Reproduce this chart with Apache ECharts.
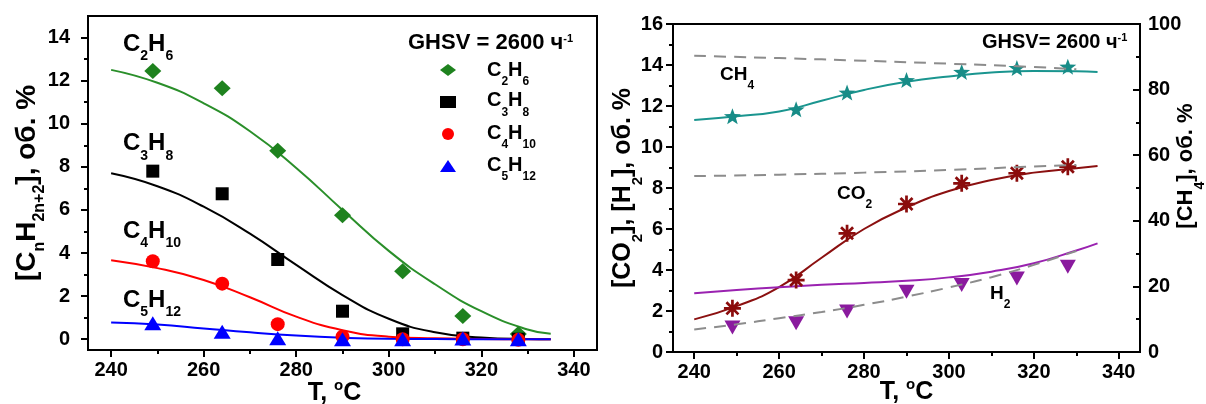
<!DOCTYPE html>
<html>
<head>
<meta charset="utf-8">
<script src="https://cdn.jsdelivr.net/npm/echarts@6/dist/echarts.min.js"></script>
<style>
html, body { margin: 0; padding: 0; background: #fff; }
#chart { width: 1206px; height: 404px; }
</style>
</head>
<body>
<div id="chart"></div>
<script>
// Measurement temperatures, °C
const temps = [249, 264, 276, 290, 303, 316, 328];

// Left panel: residual C2–C5 alkanes, vol. %
const c2h6 = [12.45, 11.65, 8.75, 5.75, 3.15, 1.08, 0.24];
const c3h8 = [7.8, 6.75, 3.7, 1.3, 0.25, 0.05, 0.0];
const c4h10 = [3.62, 2.58, 0.7, 0.12, 0.0, 0.0, -0.03];
const c5h12 = [0.74, 0.35, 0.05, 0.0, 0.0, 0.03, 0.0];

// Fitted curves, sampled along T
const fitT = [240, 250, 260, 270, 280, 290, 300, 310, 320, 330, 335];
const c2h6Fit = [12.5, 11.9, 10.95, 9.65, 7.95, 6.0, 4.1, 2.55, 1.3, 0.45, 0.25];
const c3h8Fit = [7.7, 7.1, 6.15, 4.9, 3.45, 2.05, 0.95, 0.32, 0.08, 0.01, 0.0];
const c4h10Fit = [3.67, 3.3, 2.75, 1.95, 1.05, 0.42, 0.12, 0.04, 0.01, 0.0, 0.0];
const c5h12Fit = [0.78, 0.68, 0.5, 0.32, 0.17, 0.07, 0.02, 0.01, 0.0, 0.0, 0.0];

// Right panel: products, vol. % (CH4 on the right axis)
const ch4 = [71.9, 74.0, 79.1, 82.9, 85.4, 86.6, 87.0];
const co2 = [2.13, 3.51, 5.79, 7.22, 8.23, 8.72, 9.04];
const h2 = [1.2, 1.4, 1.97, 2.94, 3.27, 3.59, 4.16];

const ch4Fit = [70.7, 71.9, 73.3, 76.6, 79.9, 82.4, 84.0, 85.2, 85.7, 85.6, 85.4];
const co2Fit = [1.59, 2.24, 3.16, 4.6, 6.0, 7.05, 7.85, 8.39, 8.75, 8.96, 9.07];
const h2Fit = [2.86, 3.02, 3.16, 3.28, 3.37, 3.47, 3.64, 3.92, 4.33, 4.95, 5.3];

// Equilibrium (dashed) lines
const eqT = [240, 260, 280, 300, 320, 330];
const ch4Eq = [90.3, 89.6, 88.8, 87.9, 86.9, 86.2];
const co2Eq = [8.58, 8.65, 8.75, 8.88, 9.05, 9.12];
const h2EqT = [240, 250, 260, 270, 280, 290, 300, 310, 320, 330];
const h2Eq = [1.1, 1.35, 1.65, 1.95, 2.3, 2.7, 3.15, 3.65, 4.25, 4.93];

// Tick positions
const xMajor = [240, 260, 280, 300, 320, 340];
const xMinor = [250, 270, 290, 310, 330];
const yLeftMajor = [0, 2, 4, 6, 8, 10, 12, 14];
const yLeftMinor = [1, 3, 5, 7, 9, 11, 13];

// Legend entries (series name, formula rich text)
const legendNames = ['C2H6', 'C3H8', 'C4H10', 'C5H12'];
const legendTexts = ['{m|C}{s|2}{m|H}{s|6}', '{m|C}{s|3}{m|H}{s|8}', '{m|C}{s|4}{m|H}{s|10}', '{m|C}{s|5}{m|H}{s|12}'];

const FONT = '"Liberation Sans", Arial, Helvetica, sans-serif';
const pairs = (xs, ys) => xs.map((x, i) => [x, ys[i]]);

const STAR = 'path://M100,0L124,67L195.11,69.1L139,112L158.78,180.9L100,141L41.22,180.9L61,112L4.89,69.1L76,67Z';
const ASTER = 'path://M0,84L200,84L200,116L0,116Z M84,0L116,0L116,200L84,200Z M40.6,18L182,159.4L159.4,182L18,40.6Z M182,40.6L40.6,182L18,159.4L159.4,18Z';

// Rich-text styles: m = main glyphs (centred in a tall line), s = subscript
// (sits at the line bottom), u = superscript (sits at the line top).
function rich(main, lh, sub, colorKey) {
  const base = { fontWeight: 'bold', fontFamily: FONT };
  base[colorKey] = '#000';
  return {
    m: Object.assign({ fontSize: main, lineHeight: lh, verticalAlign: 'middle' }, base),
    s: Object.assign({ fontSize: sub, lineHeight: 4, verticalAlign: 'bottom' }, base),
    u: Object.assign({ fontSize: sub, lineHeight: 4, verticalAlign: 'top' }, base)
  };
}
const richEC = (a, b, c) => rich(a, b, c, 'color');
const richZr = (a, b, c) => rich(a, b, c, 'fill');

const tickLabel = { color: '#000', fontSize: 20, fontWeight: 'bold', fontFamily: FONT };
const blackLine = { color: '#000', width: 2 };

function xMain(grid, nameGap, namePad) {
  return {
    type: 'value', gridIndex: grid, position: 'bottom', min: 235, max: 345,
    axisLine: { show: true, onZero: false, lineStyle: blackLine },
    axisTick: { show: true, length: 7, lineStyle: blackLine, customValues: xMajor },
    axisLabel: Object.assign({ customValues: xMajor, margin: 10 }, tickLabel),
    splitLine: { show: false },
    name: '{m|T, }{u|o}{m|C}', nameLocation: 'middle', nameGap: nameGap, nameMoveOverlap: false,
    nameTextStyle: { rich: richEC(25, 31, 15), padding: namePad }
  };
}
function xMinorAxis(grid) {
  return {
    type: 'value', gridIndex: grid, position: 'bottom', min: 235, max: 345,
    axisLine: { show: false, onZero: false },
    axisTick: { show: true, length: 4, lineStyle: blackLine, customValues: xMinor },
    axisLabel: { show: false }, splitLine: { show: false }
  };
}

function label(x, y, text, r) {
  return { type: 'text', x: x, y: y, silent: true,
           style: { text: text, rich: r, align: 'left', verticalAlign: 'top' } };
}

const legendRowTop = [52, 82.5, 115, 147];
const legendLabels = legendTexts.map((t, i) => label(487, legendRowTop[i], t, richZr(20, 36, 12)));

const option = {
  animation: false,
  backgroundColor: '#fff',
  textStyle: { fontFamily: FONT },
  grid: [
    { left: 88, top: 16, width: 509, height: 334, show: true, borderColor: '#000', borderWidth: 2,
      containLabel: false, outerBoundsMode: 'none' },
    { left: 673, top: 24, width: 467, height: 328, show: true, borderColor: '#000', borderWidth: 2,
      containLabel: false, outerBoundsMode: 'none' }
  ],
  xAxis: [
    xMain(0, 28, [0, 16, 0, 0]),
    xMinorAxis(0),
    xMain(1, 25, 0),
    xMinorAxis(1)
  ],
  yAxis: [
    {
      type: 'value', gridIndex: 0, position: 'left', min: -0.5, max: 15,
      axisLine: { show: true, onZero: false, lineStyle: blackLine },
      axisTick: { show: true, length: 7, lineStyle: blackLine, customValues: yLeftMajor },
      axisLabel: Object.assign({ customValues: yLeftMajor, margin: 18 }, tickLabel),
      splitLine: { show: false },
      name: '{m|[C}{s|n}{m|H}{s|2n+2}{m|], об. %}', nameLocation: 'middle', nameRotate: 90, nameGap: 40,
      nameMoveOverlap: false,
      nameTextStyle: { rich: richEC(28, 42, 16) }
    },
    {
      type: 'value', gridIndex: 0, position: 'left', min: -0.5, max: 15,
      axisLine: { show: false, onZero: false },
      axisTick: { show: true, length: 4, lineStyle: blackLine, customValues: yLeftMinor },
      axisLabel: { show: false }, splitLine: { show: false }
    },
    {
      type: 'value', gridIndex: 1, position: 'left', min: 0, max: 16, interval: 2,
      axisLine: { show: true, onZero: false, lineStyle: blackLine },
      axisTick: { show: true, length: 7, lineStyle: blackLine },
      minorTick: { show: true, splitNumber: 2, length: 4, lineStyle: blackLine },
      axisLabel: Object.assign({ margin: 10 }, tickLabel),
      splitLine: { show: false }, minorSplitLine: { show: false },
      name: '{m|[CO}{s|2}{m|], [H}{s|2}{m|], об. %}', nameLocation: 'middle', nameRotate: 90, nameGap: 28,
      nameMoveOverlap: false,
      nameTextStyle: { rich: richEC(25, 43, 15) }
    },
    {
      type: 'value', gridIndex: 1, position: 'right', min: 0, max: 100, interval: 20,
      axisLine: { show: true, onZero: false, lineStyle: blackLine },
      axisTick: { show: true, inside: true, length: 7, lineStyle: blackLine },
      minorTick: { show: true, splitNumber: 2, length: 4, lineStyle: blackLine },
      axisLabel: Object.assign({ margin: 8 }, tickLabel),
      splitLine: { show: false }, minorSplitLine: { show: false },
      name: '{m|[CH}{s|4}{m|], об. %}', nameLocation: 'middle', nameRotate: 90, nameGap: 25,
      nameMoveOverlap: false,
      nameTextStyle: { rich: richEC(22, 42, 14), padding: [0, 0, 0, 44] }
    }
  ],
  // Legend draws the marker icons only; the formula text sits beside them as rich graphic text
  legend: {
    orient: 'vertical', left: 440, top: 64, padding: 0, itemGap: 20,
    itemWidth: 16, itemHeight: 12, selectedMode: false,
    data: legendNames,
    formatter: function () { return ''; },
    textStyle: { fontSize: 10, lineHeight: 10 }
  },
  graphic: [
    label(123, 24.5, '{m|C}{s|2}{m|H}{s|6}', richZr(24, 39, 14)),
    label(123, 124, '{m|C}{s|3}{m|H}{s|8}', richZr(24, 39, 14)),
    label(123, 211.5, '{m|C}{s|4}{m|H}{s|10}', richZr(24, 39, 14)),
    label(123, 280.5, '{m|C}{s|5}{m|H}{s|12}', richZr(24, 39, 14)),
    label(408, 33, '{m|GHSV = 2600 ч}{u|-1}', richZr(22, 20, 11)),
    label(982, 32, '{m|GHSV= 2600 ч}{u|-1}', richZr(20, 20, 11)),
    label(720, 58, '{m|CH}{s|4}', richZr(19, 34, 12)),
    label(837, 176.5, '{m|CO}{s|2}', richZr(19, 34, 12)),
    label(990, 276.5, '{m|H}{s|2}', richZr(19, 34, 12))
  ].concat(legendLabels),
  series: [
    // Left panel: fitted curves
    { name: 'C2H6 fit', type: 'line', xAxisIndex: 0, yAxisIndex: 0, data: pairs(fitT, c2h6Fit),
      showSymbol: false, smooth: 0.5, silent: true, lineStyle: { color: '#2a8f2a', width: 2 }, z: 2 },
    { name: 'C3H8 fit', type: 'line', xAxisIndex: 0, yAxisIndex: 0, data: pairs(fitT, c3h8Fit),
      showSymbol: false, smooth: 0.5, silent: true, lineStyle: { color: '#000', width: 2 }, z: 2 },
    { name: 'C4H10 fit', type: 'line', xAxisIndex: 0, yAxisIndex: 0, data: pairs(fitT, c4h10Fit),
      showSymbol: false, smooth: 0.5, silent: true, lineStyle: { color: '#ff0000', width: 2 }, z: 2 },
    { name: 'C5H12 fit', type: 'line', xAxisIndex: 0, yAxisIndex: 0, data: pairs(fitT, c5h12Fit),
      showSymbol: false, smooth: 0.5, silent: true, lineStyle: { color: '#0000ff', width: 2 }, z: 2 },
    // Left panel: measured points
    { name: 'C2H6', type: 'scatter', xAxisIndex: 0, yAxisIndex: 0, data: pairs(temps, c2h6),
      symbol: 'diamond', symbolSize: [17, 16], itemStyle: { color: '#1e821e', opacity: 1 }, z: 3 },
    { name: 'C3H8', type: 'scatter', xAxisIndex: 0, yAxisIndex: 0, data: pairs(temps, c3h8),
      symbol: 'rect', symbolSize: 13, itemStyle: { color: '#000', opacity: 1 }, z: 3 },
    { name: 'C4H10', type: 'scatter', xAxisIndex: 0, yAxisIndex: 0, data: pairs(temps, c4h10),
      symbol: 'circle', symbolSize: 14, itemStyle: { color: '#ff0000', opacity: 1 }, z: 3 },
    { name: 'C5H12', type: 'scatter', xAxisIndex: 0, yAxisIndex: 0, data: pairs(temps, c5h12),
      symbol: 'triangle', symbolSize: [17, 14], itemStyle: { color: '#0000ff', opacity: 1 }, z: 3 },

    // Right panel: fitted curves
    { name: 'CH4 fit', type: 'line', xAxisIndex: 2, yAxisIndex: 3, data: pairs(fitT, ch4Fit),
      showSymbol: false, smooth: 0.5, silent: true, lineStyle: { color: '#1a958f', width: 2 }, z: 2 },
    { name: 'CO2 fit', type: 'line', xAxisIndex: 2, yAxisIndex: 2, data: pairs(fitT, co2Fit),
      showSymbol: false, smooth: 0.5, silent: true, lineStyle: { color: '#8b1010', width: 2 }, z: 2 },
    { name: 'H2 fit', type: 'line', xAxisIndex: 2, yAxisIndex: 2, data: pairs(fitT, h2Fit),
      showSymbol: false, smooth: 0.5, silent: true, lineStyle: { color: '#9a22b0', width: 2 }, z: 2 },
    // Right panel: measured points
    { name: 'CH4', type: 'scatter', xAxisIndex: 2, yAxisIndex: 3, data: pairs(temps, ch4),
      symbol: STAR, symbolSize: [17, 16], itemStyle: { color: '#178c87', opacity: 1 }, z: 3 },
    { name: 'CO2', type: 'scatter', xAxisIndex: 2, yAxisIndex: 2, data: pairs(temps, co2),
      symbol: ASTER, symbolSize: 17, itemStyle: { color: '#8b0c0c', opacity: 1 }, z: 3 },
    { name: 'H2', type: 'scatter', xAxisIndex: 2, yAxisIndex: 2, data: pairs(temps, h2),
      symbol: 'triangle', symbolRotate: 180, symbolSize: [16, 14], itemStyle: { color: '#8a1a9e', opacity: 1 }, z: 3 },
    // Right panel: equilibrium lines
    { name: 'CH4 eq', type: 'line', xAxisIndex: 2, yAxisIndex: 3, data: pairs(eqT, ch4Eq),
      showSymbol: false, smooth: 0.5, silent: true, lineStyle: { color: '#8c8c8c', width: 2, type: [12, 8] }, z: 4 },
    { name: 'CO2 eq', type: 'line', xAxisIndex: 2, yAxisIndex: 2, data: pairs(eqT, co2Eq),
      showSymbol: false, smooth: 0.5, silent: true, lineStyle: { color: '#8c8c8c', width: 2, type: [12, 8] }, z: 4 },
    { name: 'H2 eq', type: 'line', xAxisIndex: 2, yAxisIndex: 2, data: pairs(h2EqT, h2Eq),
      showSymbol: false, smooth: 0.5, silent: true, lineStyle: { color: '#8c8c8c', width: 2, type: [12, 8] }, z: 4 }
  ]
};

const chart = echarts.init(document.getElementById('chart'), null, { renderer: 'canvas' });
chart.setOption(option);
</script>
</body>
</html>
